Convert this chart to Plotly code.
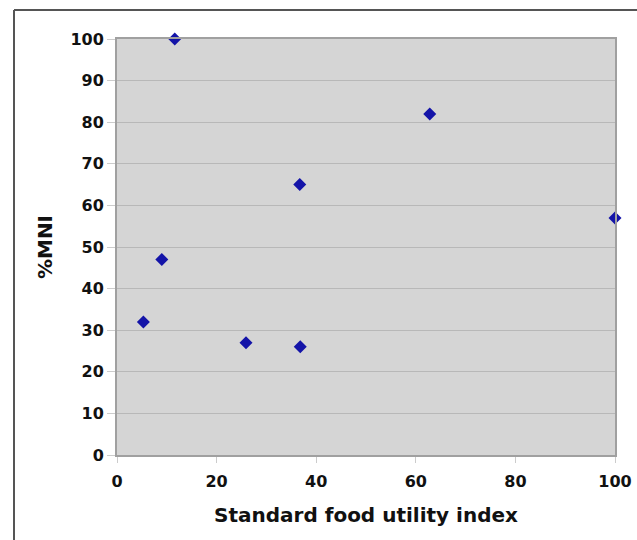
import plotly.graph_objects as go

x_vals = [5.3, 9.0, 11.6, 25.9, 36.7, 36.8, 62.8, 100.0]
y_vals = [32, 47, 100, 27, 65, 26, 82, 57]
tick_vals = [0, 20, 40, 60, 80, 100]
y_ticks = [0, 10, 20, 30, 40, 50, 60, 70, 80, 90, 100]

W, H = 637, 540
L, R, T, B = 117, 22, 39, 85
pw, ph = W - L - R, H - T - B

FAM = "DejaVu Sans, Verdana, sans-serif"

fig = go.Figure()
fig.add_trace(go.Scatter(
    x=x_vals, y=y_vals, mode="markers",
    marker=dict(symbol="diamond", size=10, color="#1414a8",
                line=dict(width=0)),
    cliponaxis=False, showlegend=False,
))

fig.update_layout(
    width=W, height=H,
    margin=dict(l=L, r=R, t=T, b=B, autoexpand=False),
    paper_bgcolor="white",
    plot_bgcolor="#d5d5d5",
    font=dict(family=FAM, size=16, color="#111111"),
    xaxis=dict(
        range=[0, 100], tickvals=tick_vals, showgrid=False,
        ticks="outside", ticklen=6, tickcolor="#cccccc", tickwidth=1,
        ticklabelstandoff=5,
        showline=True, linecolor="#a0a0a0", linewidth=2, mirror=True,
        zeroline=False, automargin=False,
        tickfont=dict(family=FAM, size=16, color="#111111", weight="bold"),
        title=dict(text="<b>Standard food utility index</b>",
                   font=dict(family=FAM, size=20, color="#111111"),
                   standoff=18),
    ),
    yaxis=dict(
        range=[0, 100], tickvals=y_ticks, showgrid=True,
        gridcolor="#b8b8b8", gridwidth=1,
        ticks="outside", ticklen=8, tickcolor="#cccccc", tickwidth=1,
        showline=True, linecolor="#a0a0a0", linewidth=2, mirror=True,
        zeroline=False, automargin=False,
        tickfont=dict(family=FAM, size=16, color="#111111", weight="bold"),
        title=dict(text="<b>%MNI</b>",
                   font=dict(family=FAM, size=20, color="#111111"),
                   standoff=12),
    ),
)

# outer chart border (top and left edges visible in the reference)
x0 = (14 - L) / pw
y0 = 1 + (T - 10) / ph
fig.add_shape(type="line", xref="paper", yref="paper",
              x0=x0, x1=x0, y0=y0, y1=-(B + 5) / ph,
              line=dict(color="#555555", width=2))
fig.add_shape(type="line", xref="paper", yref="paper",
              x0=x0, x1=(W - L + 5) / pw, y0=y0, y1=y0,
              line=dict(color="#555555", width=2))

fig.write_html("out.html",
               config={"displayModeBar": False},
               post_script="document.body.style.margin='0';document.body.style.overflow='hidden';")
